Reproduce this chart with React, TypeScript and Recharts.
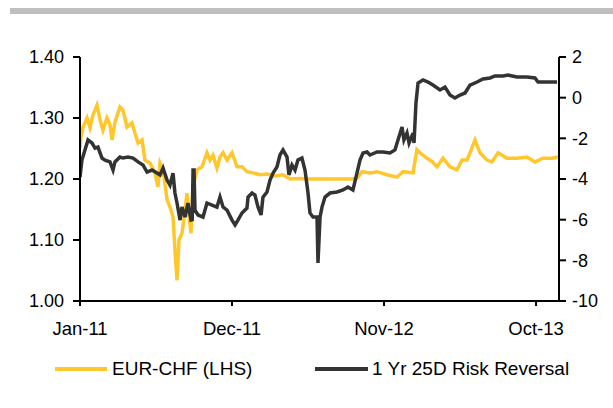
import React from "react";
import { LineChart, Line, XAxis, YAxis } from "recharts";

// ─── Data (x = months since Jan-11) ──────────────────────────────────────────

const xTicks = [0, 11, 22, 33];
const xTickLabels = ["Jan-11", "Dec-11", "Nov-12", "Oct-13"];
const leftTicks = [1.0, 1.1, 1.2, 1.3, 1.4];
const rightTicks = [-10, -8, -6, -4, -2, 0, 2];

const eurChfMonths = [
  0, 0.07, 0.22, 0.51, 0.72, 0.94, 1.23, 1.45, 1.66, 1.95, 2.17, 2.32, 2.53,
  2.89, 3.11, 3.4, 3.76, 3.98, 4.2, 4.49, 4.7, 5.07, 5.43, 5.64, 5.79, 6.01,
  6.3, 6.51, 6.73, 6.87, 7.02, 7.16, 7.38, 7.6, 7.74, 7.81, 8.03, 8.18, 8.47,
  8.83, 9.19, 9.41, 9.62, 9.91, 10.13, 10.35, 10.64, 11.0, 11.36, 11.72, 12.08,
  12.52, 13.02, 13.53, 14.1, 14.69, 15.2, 15.92, 16.6, 17.15, 18.31, 19.54,
  20.04, 20.41, 21.0, 21.49, 22.21, 22.94, 23.37, 24.1, 24.38, 24.6, 25.11,
  25.5, 25.83, 26.27, 26.77, 27.28, 27.64, 28.0, 28.22, 28.58, 28.94, 29.45,
  29.81, 30.25, 30.9, 31.62, 32.34, 32.92, 33.5, 34.15, 34.59,
];
const eurChfValues = [
  1.251, 1.269, 1.285, 1.3, 1.284, 1.305, 1.321, 1.297, 1.28, 1.3, 1.289, 1.264,
  1.293, 1.318, 1.313, 1.285, 1.292, 1.275, 1.259, 1.264, 1.231, 1.226, 1.21,
  1.187, 1.226, 1.215, 1.166, 1.154, 1.138, 1.084, 1.034, 1.1, 1.111, 1.149,
  1.177, 1.154, 1.111, 1.187, 1.215, 1.22, 1.243, 1.231, 1.239, 1.218, 1.236,
  1.243, 1.231, 1.243, 1.22, 1.22, 1.212, 1.21, 1.207, 1.208, 1.205, 1.207,
  1.2, 1.201, 1.2, 1.2, 1.2, 1.2, 1.201, 1.212, 1.21, 1.212, 1.207, 1.203,
  1.212, 1.21, 1.248, 1.243, 1.234, 1.228, 1.22, 1.234, 1.22, 1.215, 1.231,
  1.231, 1.243, 1.264, 1.243, 1.231, 1.228, 1.243, 1.234, 1.234, 1.236, 1.228,
  1.234, 1.234, 1.236,
];

const riskRevMonths = [
  0, 0.14, 0.36, 0.58, 0.87, 1.09, 1.3, 1.59, 1.81, 2.17, 2.39, 2.53, 2.89,
  3.11, 3.47, 3.84, 4.2, 4.56, 4.85, 5.21, 5.57, 5.79, 6.01, 6.3, 6.51, 6.73,
  6.87, 7.02, 7.24, 7.38, 7.6, 7.81, 8.03, 8.12, 8.18, 8.25, 8.32, 8.54, 8.9,
  9.19, 9.55, 9.91, 10.13, 10.35, 10.64, 11.0, 11.22, 11.43, 11.72, 12.08,
  12.16, 12.45, 12.66, 12.88, 13.1, 13.24, 13.53, 13.75, 13.97, 14.25, 14.47,
  14.69, 14.98, 15.12, 15.34, 15.56, 15.77, 16.06, 16.28, 16.5, 16.64, 16.86,
  17.15, 17.22, 17.37, 17.51, 17.73, 18.09, 18.6, 19.03, 19.39, 19.75, 20.04,
  20.26, 20.48, 20.77, 20.98, 21.49, 21.92, 22.43, 22.79, 23.01, 23.3, 23.44,
  23.66, 23.81, 24.1, 24.17, 24.31, 24.46, 24.82, 25.18, 25.54, 26.05, 26.41,
  26.77, 27.13, 27.5, 27.86, 28.22, 28.73, 29.16, 29.67, 30.03, 30.61, 30.97,
  31.62, 32.34, 32.92, 33.14, 33.79, 34.52,
];
const riskRevValues = [
  -3.9, -3.07, -2.57, -2.08, -2.23, -2.48, -2.43, -2.97, -3.07, -3.16, -3.56,
  -3.16, -2.92, -2.97, -2.92, -2.97, -3.16, -3.31, -3.66, -3.56, -3.71, -3.8,
  -3.46, -4.05, -4.3, -3.71, -4.69, -5.18, -6.02, -5.38, -5.87, -5.18, -6.02,
  -6.0, -3.56, -3.56, -5.53, -5.77, -5.87, -5.18, -5.28, -5.38, -4.89, -5.38,
  -5.53, -6.02, -6.26, -6.02, -5.67, -5.43, -4.89, -4.69, -4.79, -5.38, -5.77,
  -4.89, -4.64, -4.05, -3.71, -3.41, -2.82, -2.57, -2.92, -3.8, -3.31, -3.56,
  -3.07, -2.97, -3.56, -4.69, -5.67, -5.87, -5.87, -8.13, -5.87, -5.38, -4.89,
  -4.69, -4.64, -4.54, -4.39, -4.54, -3.71, -3.07, -2.72, -2.67, -2.82, -2.67,
  -2.67, -2.72, -2.57, -2.08, -1.44, -2.08, -1.74, -2.23, -1.74, -2.23, -0.26,
  0.72, 0.87, 0.77, 0.62, 0.38, 0.52, 0.13, -0.02, 0.13, 0.23, 0.62, 0.77,
  0.92, 0.97, 1.07, 1.07, 1.11, 1.02, 1.02, 0.97, 0.77, 0.77, 0.77,
];

const eurChfData = eurChfMonths.map((t, i) => ({ t, v: eurChfValues[i] }));
const riskRevData = riskRevMonths.map((t, i) => ({ t, v: riskRevValues[i] }));

// ─── Styles ──────────────────────────────────────────────────────────────────

const FONT = "'Liberation Sans', Arial, sans-serif";
const YELLOW = "#FFC72C";
const DARK = "#333333";
const yTickStyle = { fontSize: 18, fill: "#000", fontFamily: FONT };
const xTickStyle = { fontSize: 18.5, fill: "#000", fontFamily: FONT };
const axisLine = { stroke: "#000", strokeWidth: 2 };
const tickLine = { stroke: "#000", strokeWidth: 2 };

export default function App() {
  return (
    <div
      style={{
        position: "relative",
        width: 613,
        height: 408,
        background: "#fff",
        fontFamily: FONT,
      }}
    >
      <style>{`body{margin:0}`}</style>
      {/* Top grey rule */}
      <div
        style={{
          position: "absolute",
          left: 10,
          top: 8,
          width: 603,
          height: 6,
          background: "#BFBFBF",
        }}
      />

      <LineChart
        width={613}
        height={408}
        margin={{ top: 57, right: 0, bottom: 77, left: 0 }}
      >
        <XAxis
          dataKey="t"
          type="number"
          domain={[0, 34.66]}
          ticks={xTicks}
          tickFormatter={(v: number) => xTickLabels[xTicks.indexOf(v)] ?? ""}
          allowDataOverflow
          height={30}
          tick={xTickStyle}
          axisLine={axisLine}
          tickLine={tickLine}
          tickSize={5}
          tickMargin={16}
          interval={0}
        />
        <YAxis
          yAxisId="left"
          orientation="left"
          width={80}
          domain={[1.0, 1.4]}
          ticks={leftTicks}
          tickFormatter={(v: number) => v.toFixed(2)}
          tick={yTickStyle}
          axisLine={axisLine}
          tickLine={tickLine}
          tickSize={7}
          tickMargin={9}
          allowDataOverflow
        />
        <YAxis
          yAxisId="right"
          orientation="right"
          width={54}
          domain={[-10, 2]}
          ticks={rightTicks}
          tick={yTickStyle}
          axisLine={axisLine}
          tickLine={tickLine}
          tickSize={7}
          tickMargin={6}
          allowDataOverflow
        />
        <Line
          yAxisId="left"
          data={eurChfData}
          dataKey="v"
          type="linear"
          stroke={YELLOW}
          strokeWidth={3.5}
          dot={false}
          isAnimationActive={false}
        />
        <Line
          yAxisId="right"
          data={riskRevData}
          dataKey="v"
          type="linear"
          stroke={DARK}
          strokeWidth={3.5}
          dot={false}
          isAnimationActive={false}
        />
      </LineChart>

      {/* Legend */}
      <div
        style={{
          position: "absolute",
          left: 55,
          top: 367,
          width: 52,
          height: 4,
          background: YELLOW,
        }}
      />
      <div
        style={{
          position: "absolute",
          left: 112,
          top: 356,
          fontSize: 19,
          lineHeight: "25px",
          color: "#000",
        }}
      >
        EUR-CHF (LHS)
      </div>
      <div
        style={{
          position: "absolute",
          left: 315,
          top: 367,
          width: 53,
          height: 4,
          background: DARK,
        }}
      />
      <div
        style={{
          position: "absolute",
          left: 372,
          top: 356,
          fontSize: 19,
          lineHeight: "25px",
          color: "#000",
        }}
      >
        1 Yr 25D Risk Reversal
      </div>
    </div>
  );
}
